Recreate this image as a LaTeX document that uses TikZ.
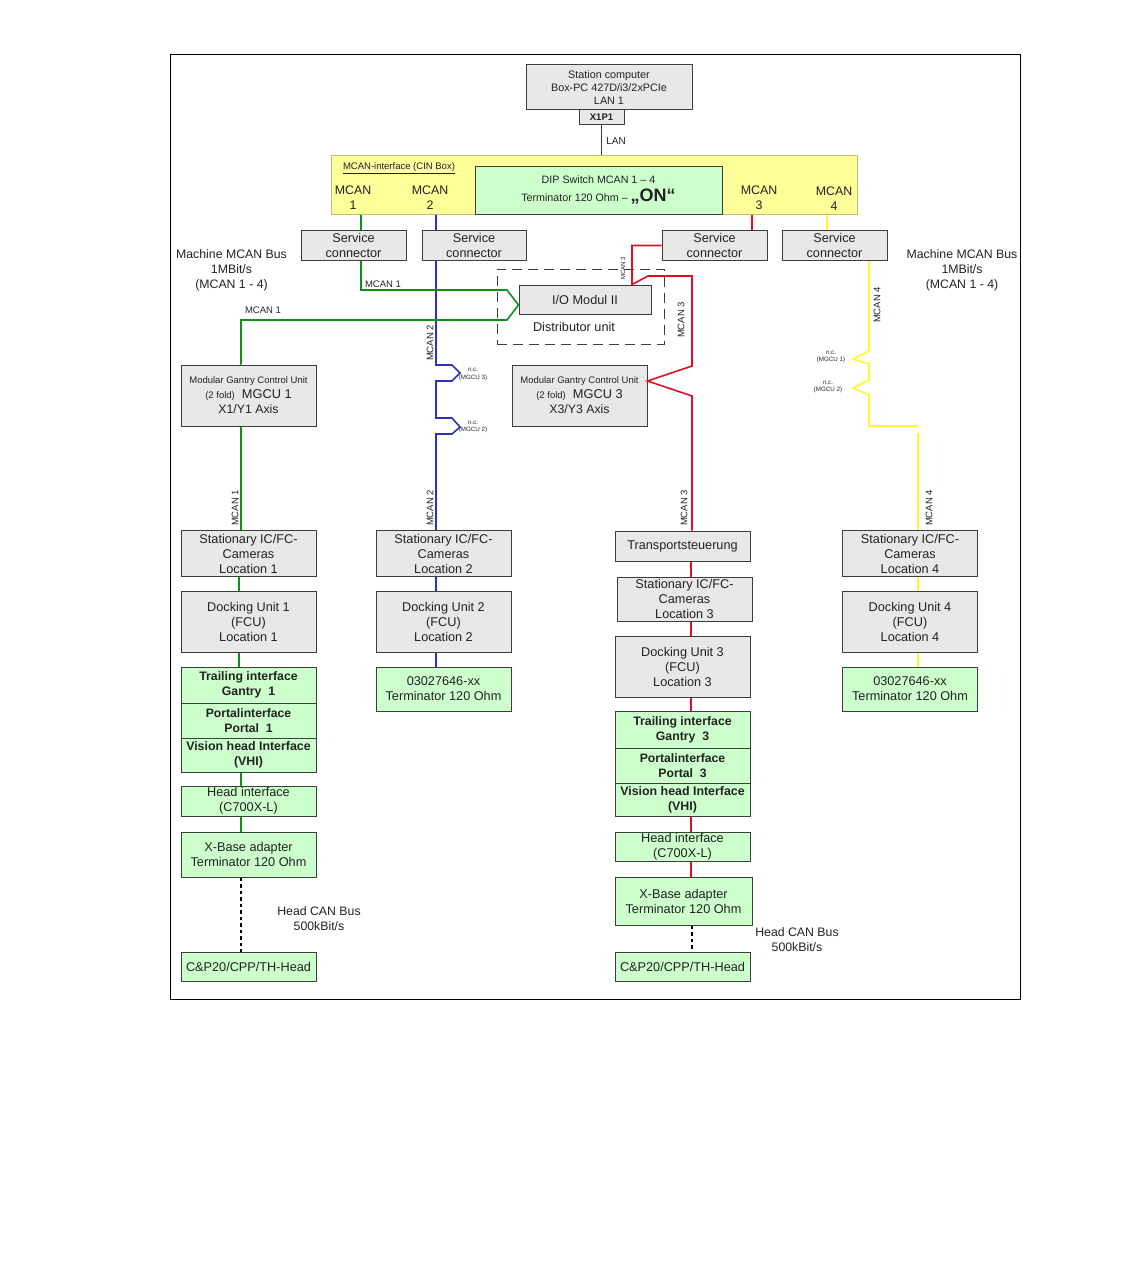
\documentclass[tikz,border=0pt]{standalone}
\usepackage{fontspec}
\setmainfont{Liberation Sans}
\usepackage{xcolor}
\usepackage{tikz}
\usetikzlibrary{positioning,calc}
\definecolor{BoxGrey}{HTML}{E8E8E8}
\definecolor{BoxGreen}{HTML}{CCFFCC}
\definecolor{BoxYellow}{HTML}{FFFF99}
\definecolor{EdgeDark}{HTML}{3A3F3A}
\definecolor{TextDark}{HTML}{222222}
\definecolor{WireGreen}{HTML}{109018}
\definecolor{WireBlue}{HTML}{3030C0}
\definecolor{WireRed}{HTML}{E01020}
\definecolor{WireYellow}{HTML}{FFF830}
\newcommand{\fs}[2]{\fontsize{#1}{#2}\selectfont}

\begin{document}
\begin{tikzpicture}[x=1pt,y=-1pt,
    every node/.style={font=\fs{12.7}{15}, text=TextDark, inner sep=0pt, align=center},
    greybox/.style={draw=EdgeDark, fill=BoxGrey, line width=1pt},
    greenbox/.style={draw=EdgeDark, fill=BoxGreen, line width=1pt},
    smalltag/.style={font=\fs{9.5}{11}},
    nctag/.style={font=\fs{6.2}{7.5}},
    vtag/.style={font=\fs{9.5}{11}, rotate=90},
    wire/.style={line width=1.6pt},
    wg/.style={wire, WireGreen},
    wb/.style={wire, WireBlue},
    wr/.style={wire, WireRed},
    wy/.style={wire, WireYellow},
    headbus/.style={line width=2pt, black, dash pattern=on 3.5pt off 3pt}]
  \useasboundingbox (0,0) rectangle (1134,1271);
  \node[draw=black, line width=0.8pt, minimum width=850pt, minimum height=945pt] (frame) at (595.5,526.5) {};

  \node[greybox, minimum width=166pt, minimum height=45pt, font=\fs{10.8}{12.8}] (station) at (609,87.5)
    {Station computer\\Box-PC 427D/i3/2xPCIe\\LAN 1};
  \node[greybox, minimum width=45pt, minimum height=15pt, font=\fs{9.5}{11}\bfseries] (xonep) at (601.5,117.5) {X1P1};

  \node[draw=BoxYellow!75!black, fill=BoxYellow, line width=1pt, minimum width=526pt, minimum height=59pt] (cinbox) at (594,184.5) {};
  \node[greenbox, minimum width=247pt, minimum height=48pt, font=\fs{10.7}{18}] (dipsw) at (598.5,190)
    {DIP Switch MCAN 1 -- 4\\Terminator 120 Ohm -- {\fs{18}{18}\bfseries „ON“}};
  \node[font=\fs{9.5}{11}] (cinlabel) at (399,168) {\underline{MCAN-interface (CIN Box)}};
  \node[font=\fs{12.4}{15}] (portone) at (353,198) {MCAN\\1};
  \node[font=\fs{12.4}{15}] (porttwo) at (430,198) {MCAN\\2};
  \node[font=\fs{12.4}{15}] (portthree) at (759,198) {MCAN\\3};
  \node[font=\fs{12.4}{15}] (portfour) at (834,199) {MCAN\\4};

  \node[greybox, minimum width=105pt, minimum height=30pt] (svc1) at (353.5,245.5) {Service\\connector};
  \node[greybox, minimum width=104pt, minimum height=30pt] (svc2) at (474,245.5) {Service\\connector};
  \node[greybox, minimum width=105pt, minimum height=30pt] (svc3) at (714.5,245.5) {Service\\connector};
  \node[greybox, minimum width=105pt, minimum height=30pt] (svc4) at (834.5,245.5) {Service\\connector};

  \node[font=\fs{12.3}{15}] (busleft) at (231.5,270) {Machine MCAN Bus\\1MBit/s\\(MCAN 1 - 4)};
  \node[font=\fs{12.3}{15}] (busright) at (962,270) {Machine MCAN Bus\\1MBit/s\\(MCAN 1 - 4)};

  \node[draw=EdgeDark, line width=0.8pt, dash pattern=on 10pt off 6pt, minimum width=167pt, minimum height=75pt] (distbox) at (580.5,306.5) {};
  \node[greybox, minimum width=132pt, minimum height=29pt] (iomod) at (585,299.5) {I/O Modul II};
  \node (distlabel) at (574,327) {Distributor unit};

  \node[greybox, minimum width=135pt, minimum height=61pt] (mgcu1) at (248.5,395.5)
    {{\fs{9.5}{14}Modular Gantry Control Unit}\\{\fs{9.5}{14}(2 fold)}\ \ {\fs{12.8}{15}MGCU 1}\\{\fs{12.3}{15}X1/Y1 Axis}};
  \node[greybox, minimum width=135pt, minimum height=61pt] (mgcu3) at (579.5,395.5)
    {{\fs{9.5}{14}Modular Gantry Control Unit}\\{\fs{9.5}{14}(2 fold)}\ \ {\fs{12.8}{15}MGCU 3}\\{\fs{12.3}{15}X3/Y3 Axis}};

  \node[greybox, minimum width=135pt, minimum height=46pt] (cam1) at (248.5,553.5) {Stationary IC/FC-\\Cameras\\Location 1};
  \node[greybox, minimum width=135pt, minimum height=61pt] (dock1) at (248.5,621.5) {Docking Unit 1\\(FCU)\\Location 1};
  \node[greenbox, minimum width=135pt, minimum height=36pt, font=\fs{12.3}{15}\bfseries] (trail1) at (248.5,685) {Trailing interface\\Gantry~~1};
  \node[greenbox, minimum width=135pt, minimum height=35pt, font=\fs{12.2}{15}\bfseries] (portal1) at (248.5,720.5) {Portalinterface\\Portal~~1};
  \node[greenbox, minimum width=135pt, minimum height=34pt, font=\fs{12.4}{15}\bfseries] (vhi1) at (248.5,755) {Vision head Interface\\(VHI)};
  \node[greenbox, minimum width=135pt, minimum height=30pt] (head1) at (248.5,801) {Head interface\\(C700X-L)};
  \node[greenbox, minimum width=135pt, minimum height=45pt] (xbase1) at (248.5,854.5) {X-Base adapter\\Terminator 120 Ohm};
  \node[greenbox, minimum width=135pt, minimum height=29pt] (cpp1) at (248.5,966.5) {C\&P20/CPP/TH-Head};
  \node[font=\fs{12.3}{15}] (canleft) at (319,918.5) {Head CAN Bus\\500kBit/s};

  \node[greybox, minimum width=135pt, minimum height=46pt] (cam2) at (443.5,553.5) {Stationary IC/FC-\\Cameras\\Location 2};
  \node[greybox, minimum width=135pt, minimum height=61pt] (dock2) at (443.5,621.5) {Docking Unit 2\\(FCU)\\Location 2};
  \node[greenbox, minimum width=135pt, minimum height=44pt] (term2) at (443.5,689) {03027646-xx\\Terminator 120 Ohm};

  \node[greybox, minimum width=135pt, minimum height=30pt, text depth=3pt, text height=9pt] (trans3) at (682.5,546) {Transportsteuerung};
  \node[greybox, minimum width=135pt, minimum height=44pt] (cam3) at (684.5,599) {Stationary IC/FC-\\Cameras\\Location 3};
  \node[greybox, minimum width=135pt, minimum height=61pt] (dock3) at (682.5,666.5) {Docking Unit 3\\(FCU)\\Location 3};
  \node[greenbox, minimum width=135pt, minimum height=37pt, font=\fs{12.3}{15}\bfseries] (trail3) at (682.5,729.5) {Trailing interface\\Gantry~~3};
  \node[greenbox, minimum width=135pt, minimum height=35pt, font=\fs{12.2}{15}\bfseries] (portal3) at (682.5,765.5) {Portalinterface\\Portal~~3};
  \node[greenbox, minimum width=135pt, minimum height=33pt, font=\fs{12.4}{15}\bfseries] (vhi3) at (682.5,799.5) {Vision head Interface\\(VHI)};
  \node[greenbox, minimum width=135pt, minimum height=29pt] (head3) at (682.5,846.5) {Head interface\\(C700X-L)};
  \node[greenbox, minimum width=137pt, minimum height=48pt] (xbase3) at (683.5,901) {X-Base adapter\\Terminator 120 Ohm};
  \node[greenbox, minimum width=135pt, minimum height=29pt] (cpp3) at (682.5,966.5) {C\&P20/CPP/TH-Head};
  \node[font=\fs{12.3}{15}] (canright) at (797,939.5) {Head CAN Bus\\500kBit/s};

  \node[greybox, minimum width=135pt, minimum height=46pt] (cam4) at (910,553.5) {Stationary IC/FC-\\Cameras\\Location 4};
  \node[greybox, minimum width=135pt, minimum height=61pt] (dock4) at (910,621.5) {Docking Unit 4\\(FCU)\\Location 4};
  \node[greenbox, minimum width=135pt, minimum height=44pt] (term4) at (910,689) {03027646-xx\\Terminator 120 Ohm};

  \coordinate (xg) at (361,0);
  \coordinate (xh) at (241,0);
  \coordinate (xb) at (436,0);
  \coordinate (xr) at (752,0);
  \coordinate (xs) at (691,0);
  \coordinate (xy) at (827,0);
  \coordinate (xz) at (869,0);
  \coordinate (xt) at (918,0);

  \draw[line width=1pt, EdgeDark] (xonep.south) -- (cinbox.north -| xonep.south);

  \draw[wg] (cinbox.south -| xg) -- (svc1.north -| xg);
  \draw[wb] (cinbox.south -| xb) -- (svc2.north -| xb);
  \draw[wr] (cinbox.south -| xr) -- (svc3.north -| xr);
  \draw[wy] (cinbox.south -| xy) -- (svc4.north -| xy);

  \draw[wb] (svc2.south -| xb) -- (436,365) -- (452,365) -- (460,373) -- (452,381) -- (436,381)
    -- (436,418) -- (452,418) -- (460,427) -- (452,434) -- (436,434) -- (cam2.north -| xb);
  \draw[wg] (svc1.south -| xg) -- (361,290) -- (507,290) -- (iomod.west |- 0,305) -- (507,320)
    -- (241,320) -- (mgcu1.north -| xh);
  \draw[wg] (mgcu1.south -| xh) -- (cam1.north -| xh);
  \draw[wr] (svc3.west) -- (632,245.5) -- (iomod.north -| 632,0) -- (648,276) -- (692,276) -- (692,366)
    -- (mgcu3.east |- 0,381) -- (692,396) -- (trans3.north -| 692,0);
  \draw[wy] (svc4.south -| xz) -- (869,351) -- (853,359) -- (869,364) -- (869,380) -- (853,388)
    -- (869,395) -- (869,426) -- (918,426);
  \draw[wy] (918,433) -- (cam4.north -| xt);

  \draw[wg] (cam1.south -| 239,0) -- (dock1.north -| 239,0);
  \draw[wg] (dock1.south -| 239,0) -- (trail1.north -| 239,0);
  \draw[wg] (vhi1.south -| xh) -- (head1.north -| xh);
  \draw[wg] (head1.south -| xh) -- (xbase1.north -| xh);
  \draw[headbus] (xbase1.south -| xh) -- (cpp1.north -| xh);

  \draw[wb] (cam2.south -| xb) -- (dock2.north -| xb);
  \draw[wb] (dock2.south -| xb) -- (term2.north -| xb);

  \draw[wr] (trans3.south -| xs) -- (cam3.north -| xs);
  \draw[wr] (cam3.south -| xs) -- (dock3.north -| xs);
  \draw[wr] (dock3.south -| xs) -- (trail3.north -| xs);
  \draw[wr] (vhi3.south -| xs) -- (head3.north -| xs);
  \draw[wr] (head3.south -| xs) -- (xbase3.north -| xs);
  \draw[headbus] (xbase3.south -| 692,0) -- (cpp3.north -| 692,0);

  \draw[wy] (cam4.south -| xt) -- (dock4.north -| xt);
  \draw[wy] (dock4.south -| xt) -- (term4.north -| xt);

  \node[font=\fs{10}{12}] (lanlabel) at (616,141.5) {LAN};
  \node[smalltag] (tagone) at (383,284.5) {MCAN 1};
  \node[smalltag] (tagtwo) at (263,310) {MCAN 1};
  \node[vtag] (vtwoa) at (430,343) {MCAN 2};
  \node[vtag] (vone) at (235,508) {MCAN 1};
  \node[vtag] (vtwob) at (430,508) {MCAN 2};
  \node[vtag] (vthreea) at (681,320) {MCAN 3};
  \node[vtag] (vthreeb) at (684,508) {MCAN 3};
  \node[vtag, font=\fs{6}{7}] (vthreec) at (623,268) {MCAN 3};
  \node[vtag] (vfoura) at (877,305) {MCAN 4};
  \node[vtag] (vfourb) at (929,508) {MCAN 4};

  \node[nctag] (ncone) at (473,374.5) {n.c.\\(MGCU 3)};
  \node[nctag] (nctwo) at (473,427) {n.c.\\(MGCU 2)};
  \node[nctag] (ncthree) at (831,357) {n.c.\\(MGCU 1)};
  \node[nctag] (ncfour) at (828,387) {n.c.\\(MGCU 2)};
\end{tikzpicture}
\end{document}
